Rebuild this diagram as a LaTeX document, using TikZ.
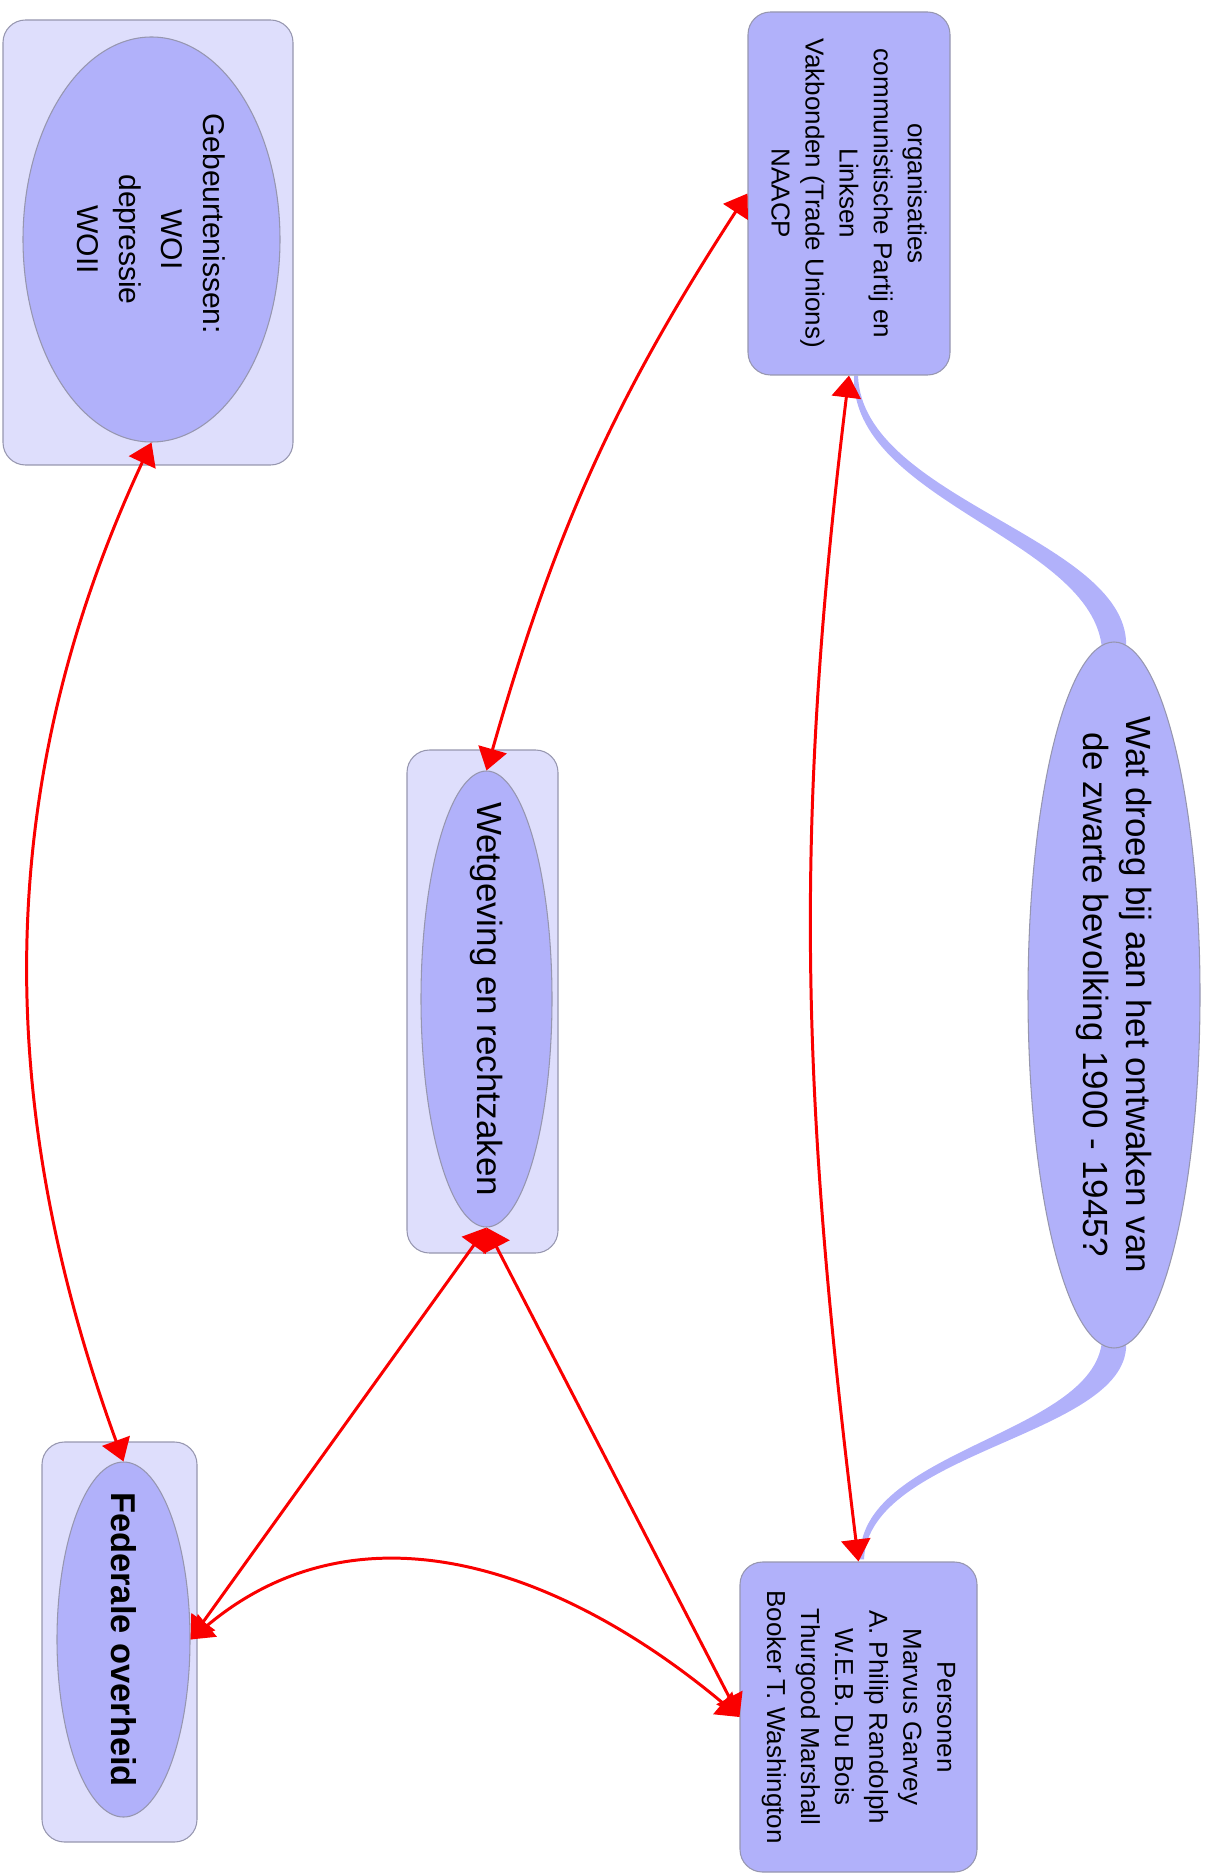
\documentclass[tikz,border=0pt]{standalone}
\usepackage{fontspec}
\setmainfont{Liberation Sans}
\usetikzlibrary{shapes.geometric,arrows.meta,backgrounds}

\definecolor{boxfill}{RGB}{222,222,252}
\definecolor{shapefill}{RGB}{177,177,250}
\definecolor{edgegray}{RGB}{150,150,175}
\definecolor{linkred}{RGB}{250,0,0}

\tikzstyle{outerbox} = [draw=edgegray,fill=boxfill,rounded corners=0.45cm,line width=0.6pt,inner sep=0pt]
\tikzstyle{bubble} = [ellipse,draw=edgegray,fill=shapefill,line width=0.6pt,inner sep=0pt]
\tikzstyle{card} = [draw=edgegray,fill=shapefill,rounded corners=0.45cm,line width=0.6pt,inner sep=0pt]
\tikzstyle{redlink} = [linkred,line width=1.7pt,<->,>={Triangle[length=0.44cm,width=0.58cm]}]
\tikzstyle{taper} = [fill=shapefill]
\tikzstyle{smalltext} = [rotate=-90,align=center,inner sep=0pt,font=\fontsize{14.8}{19.4}\selectfont]
\tikzstyle{gebtext} = [rotate=-90,align=center,inner sep=0pt,font=\fontsize{17.1}{23.9}\selectfont]
\tikzstyle{bigtext} = [rotate=-90,align=center,inner sep=0pt,font=\fontsize{19.9}{24.5}\selectfont]

\begin{document}
\begin{tikzpicture}

\useasboundingbox (0,0) rectangle (24.16,-37.48);

% Events
\node [outerbox,minimum width=5.80cm,minimum height=8.90cm] (gebbox) at (2.96,-4.85) {};
\node [bubble,minimum width=5.14cm,minimum height=8.10cm] (gebell) at (3.03,-4.79) {};
\node [gebtext] (gebtxt) at (gebell) {Gebeurtenissen:\hspace*{1.05em}\\WOI\\depressie\\WOII};

% Organisations
\node [card,minimum width=4.04cm,minimum height=7.26cm] (orgbox) at (16.98,-3.87) {};
\node [smalltext] (orgtxt) at (orgbox) {organisaties\\communistische Partij en\\Linksen\\Vakbonden (Trade Unions)\\NAACP};

% Main question
\node [bubble,minimum width=3.44cm,minimum height=14.12cm] (watell) at (22.28,-19.90) {};
\node [bigtext] (wattxt) at (watell) {Wat droeg bij aan het ontwaken van\\de zwarte bevolking 1900 - 1945?};

% Laws and court cases
\node [outerbox,minimum width=3.02cm,minimum height=10.06cm] (wetbox) at (9.65,-20.03) {};
\node [bubble,minimum width=2.62cm,minimum height=9.12cm] (wetell) at (9.73,-19.98) {};
\node [bigtext] (wettxt) at (wetell) {Wetgeving en rechtzaken};

% Federal government
\node [outerbox,minimum width=3.10cm,minimum height=8.00cm] (fedbox) at (2.39,-32.84) {};
\node [bubble,minimum width=2.66cm,minimum height=7.10cm] (fedell) at (2.47,-32.79) {};
\node [bigtext,font=\fontsize{19.6}{24}\selectfont\bfseries] (fedtxt) at (fedell) {Federale overheid};

% Persons
\node [card,minimum width=4.74cm,minimum height=6.20cm] (perbox) at (17.17,-34.34) {};
\node [smalltext] (pertxt) at (perbox) {Personen\\Marvus Garvey\\A. Philip Randolph\\W.E.B. Du Bois\\Thurgood Marshall\\Booker T. Washington};

% tapered branches behind the shapes
\coordinate (ts) at ([xshift=0.14cm]orgbox.south);
\coordinate (te) at ([yshift=-0.16cm]watell.north);
\coordinate (bs) at ([yshift=0.16cm]watell.south);
\coordinate (be) at ([xshift=0.07cm,yshift=0.04cm]perbox.north);
\begin{scope}[on background layer]
\fill [taper] ([xshift=-0.04cm]ts) .. controls ([xshift=-0.12cm,yshift=-2.5cm]ts) and ([xshift=-0.40cm,yshift=2.2cm]te) .. ([xshift=-0.24cm]te)
  -- ([xshift=0.24cm]te) .. controls ([xshift=0.40cm,yshift=2.2cm]te) and ([xshift=0.12cm,yshift=-2.5cm]ts) .. ([xshift=0.04cm]ts) -- cycle;
\fill [taper] ([xshift=-0.24cm]bs) .. controls ([xshift=-0.40cm,yshift=-1.9cm]bs) and ([xshift=-0.12cm,yshift=2.2cm]be) .. ([xshift=-0.04cm]be)
  -- ([xshift=0.04cm]be) .. controls ([xshift=0.12cm,yshift=2.2cm]be) and ([xshift=0.40cm,yshift=-1.9cm]bs) .. ([xshift=0.24cm]bs) -- cycle;
\end{scope}

% red links
\draw [redlink] (gebell.south) to [out=245,in=110,looseness=0.95] (fedell.north);
\draw [redlink] (wetell.north) to [out=74,in=237] (orgbox.west);
\draw [redlink] (orgbox.south) to [out=263,in=97] (perbox.north);
\draw [redlink] (wetell.south) -- (fedell.east);
\draw [redlink] (wetell.south) -- (perbox.west);
\draw [redlink] (fedell.east) to [out=40,in=140,looseness=1.04] (perbox.west);

\end{tikzpicture}
\end{document}
